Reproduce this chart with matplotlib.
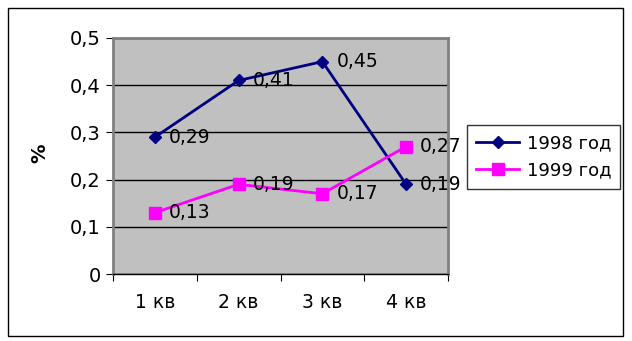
import matplotlib
matplotlib.use('Agg')
import matplotlib.pyplot as plt
from matplotlib.patches import Rectangle

quarters = ['1 кв', '2 кв', '3 кв', '4 кв']
y1998 = [0.29, 0.41, 0.45, 0.19]
y1999 = [0.13, 0.19, 0.17, 0.27]
yticks = [0, 0.1, 0.2, 0.3, 0.4, 0.5]

plt.rcParams['font.family'] = ['DejaVu Sans']

fig = plt.figure(figsize=(6.32, 3.41), dpi=100)
fig.patch.set_facecolor('white')
fig.patches.append(Rectangle((8/632, 1-336/341), 615/632, 328/341, transform=fig.transFigure,
                             fill=False, edgecolor='black', linewidth=1))

ax = fig.add_axes([113/632, 1-274/341, 335/632, 236/341])
ax.set_facecolor('#c0c0c0')
x = range(len(quarters))

ax.plot(x, y1998, color='#000080', marker='D', markersize=6, linewidth=2, label='1998 год', zorder=3)
ax.plot(x, y1999, color='#ff00ff', marker='s', markersize=9, linewidth=2, label='1999 год', zorder=3)

for xi, v in zip(x, y1998):
    ax.annotate(('%.2f' % v).replace('.', ','), (xi, v), xytext=(10, 0), textcoords='offset points',
                va='center', ha='left', fontsize=13.5)
for xi, v in zip(x, y1999):
    ax.annotate(('%.2f' % v).replace('.', ','), (xi, v), xytext=(10, 0), textcoords='offset points',
                va='center', ha='left', fontsize=13.5)

ax.set_xlim(-0.5, 3.5)
ax.set_ylim(0, 0.5)
ax.set_yticks(yticks)
ax.set_yticklabels([('%g' % t).replace('.', ',') for t in yticks], fontsize=14)
ax.set_xticks([i - 0.5 for i in range(len(quarters) + 1)])
ax.set_xticklabels([])
ax.set_xticks(list(x), minor=True)
ax.set_xticklabels(quarters, minor=True, fontsize=13.5)
ax.tick_params(axis='x', which='minor', length=0, pad=14)
ax.tick_params(axis='x', which='major', length=5, direction='out')
ax.tick_params(axis='y', length=5, direction='out', pad=4)
ax.grid(axis='y', color='black', linewidth=1)
ax.set_axisbelow(True)

for s in ['top', 'left', 'right']:
    ax.spines[s].set_color('#808080')
    ax.spines[s].set_linewidth(2)
ax.spines['bottom'].set_color('black')
ax.spines['bottom'].set_linewidth(1)

fig.text(40/632, 1-153/341, '%', rotation=90, fontsize=14, fontweight='bold', ha='center', va='center')

leg = ax.legend(loc='center left', bbox_to_anchor=(467/632, 1-157/341), bbox_transform=fig.transFigure,
                frameon=True, fancybox=False, edgecolor='black', fontsize=13,
                handlelength=2.4, borderpad=0.5, labelspacing=0.5, handletextpad=0.4, borderaxespad=0)
leg.get_frame().set_linewidth(1)

fig.savefig('out.png', dpi=100)
